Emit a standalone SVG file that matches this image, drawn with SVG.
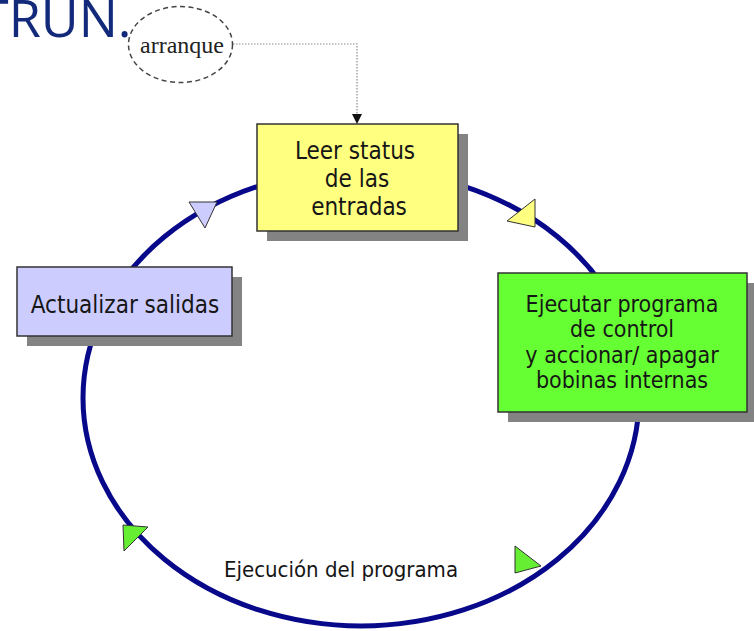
<svg xmlns="http://www.w3.org/2000/svg" width="754" height="631" viewBox="0 0 754 631">
  <style>
    .lbl { font-family: "DejaVu Sans Condensed", "DejaVu Sans", "Liberation Sans", sans-serif; font-stretch: condensed; fill: #161616; text-anchor: middle; }
    .box { stroke: #333333; stroke-width: 1.5; }
    .shadow { fill: #838383; }
    .tri { stroke: #333333; stroke-width: 1; stroke-linejoin: miter; }
    .ring { fill: none; stroke: #08088a; stroke-width: 5; }
    .title { font-family: "Open Sans", "Liberation Sans", sans-serif; fill: #13297a; font-size: 52px; }
  </style>
  <defs>
    <marker id="arrowBlack" markerWidth="10" markerHeight="10" refX="10" refY="5" orient="auto" markerUnits="userSpaceOnUse" viewBox="0 0 10 10">
      <path d="M0,0 L10,5 L0,10 Z" fill="#111111"/>
    </marker>
  </defs>

  <rect width="754" height="631" fill="#ffffff"/>

  <!-- heading, clipped by the top edge -->
  <text class="title" x="-20" y="37">TRUN.</text>

  <!-- scan cycle ring -->
  <ellipse class="ring" cx="361" cy="398" rx="278" ry="228"/>

  <!-- direction marks on the ring -->
  <g id="marks">
    <polygon class="tri" fill="#ffff80" points="535,199 535,227 507,221"/>
    <polygon class="tri" fill="#ccccff" points="189,202 217,202 205,228"/>
    <polygon class="tri" fill="#66ee33" points="515,546 541,566 515,573"/>
    <polygon class="tri" fill="#66ee33" points="123,525 148,527 124,551"/>
  </g>

  <!-- connectors -->
  <g id="connectors">
    <path d="M233,44 H357 V124" fill="none" stroke="#8a8a8a" stroke-width="1.2" stroke-dasharray="1.5 1.5" marker-end="url(#arrowBlack)"/>
  </g>

  <!-- start node -->
  <g id="arranque">
    <ellipse cx="180.5" cy="44.5" rx="52" ry="38" fill="#ffffff" stroke="#444444" stroke-width="1.5" stroke-dasharray="5 3.5"/>
    <text x="182" y="53" font-family="Liberation Serif, serif" font-size="24" fill="#222222" text-anchor="middle">arranque</text>
  </g>

  <!-- read inputs -->
  <g id="leer">
    <rect class="shadow" x="267" y="134" width="201" height="107"/>
    <rect class="box" x="257" y="124" width="201" height="107" fill="#ffff80"/>
    <text class="lbl" font-size="24" x="355" y="159">Leer status</text>
    <text class="lbl" font-size="24" x="357" y="187">de las</text>
    <text class="lbl" font-size="24" x="359" y="215">entradas</text>
  </g>

  <!-- run program -->
  <g id="ejecutar">
    <rect class="shadow" x="508" y="283" width="249" height="139"/>
    <rect class="box" x="498" y="273" width="249" height="139" fill="#66ff33"/>
    <text class="lbl" font-size="23" x="622" y="312">Ejecutar programa</text>
    <text class="lbl" font-size="23" x="622" y="337">de control</text>
    <text class="lbl" font-size="23" x="622" y="363">y accionar/ apagar</text>
    <text class="lbl" font-size="23" x="622" y="388">bobinas internas</text>
  </g>

  <!-- update outputs -->
  <g id="actualizar">
    <rect class="shadow" x="27" y="277" width="215" height="69"/>
    <rect class="box" x="17" y="267" width="215" height="69" fill="#ccccff"/>
    <text class="lbl" font-size="24" x="125" y="313">Actualizar salidas</text>
  </g>

  <!-- cycle caption -->
  <g id="caption">
    <text class="lbl" font-size="22" x="341" y="577">Ejecución del programa</text>
  </g>
</svg>
